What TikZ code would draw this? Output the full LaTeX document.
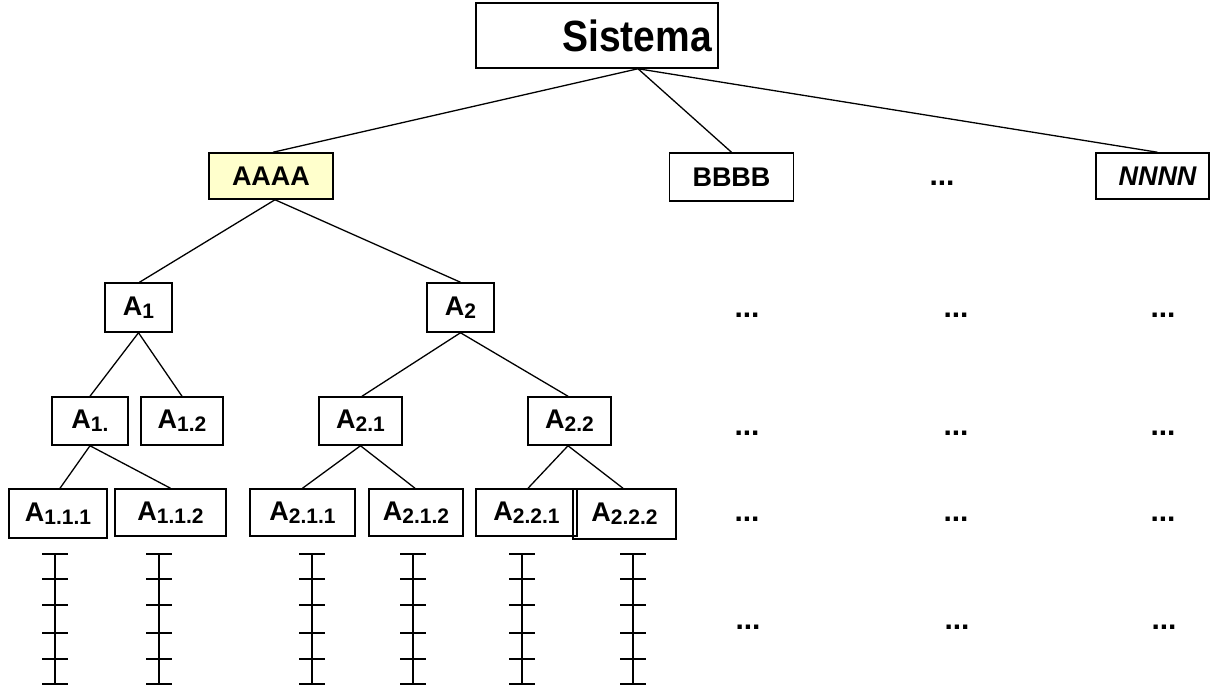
\documentclass[tikz,border=0pt]{standalone}
\usepackage{fontspec}
\setmainfont{Liberation Sans}
\definecolor{paleyellow}{HTML}{FFFFCC}
\newcommand{\subidx}[1]{\raisebox{-3pt}{\fontsize{21}{21}\selectfont #1}}
\tikzset{
  box/.style={draw, line width=1.5pt, rectangle, inner sep=0pt, anchor=center,
    font=\bfseries\fontsize{27}{27}\selectfont},
  link/.style={line width=1.3pt},
  more/.style={inner sep=0pt, anchor=center, font=\bfseries\fontsize{30}{30}\selectfont},
  tick/.style={line width=1.4pt},
}
\begin{document}
\begin{tikzpicture}[x=1pt, y=-1pt]
\useasboundingbox (0,0) rectangle (1221,685);

% top level: the title sits right of the box centre
\node[box, minimum width=242pt, minimum height=65pt, font=\bfseries\fontsize{39}{39}\selectfont] (sys) at (597,35.5) {\hspace*{80pt}\scalebox{1}[1.12]{Sistema}};

% subsystems
\node[box, fill=paleyellow, minimum width=124pt, minimum height=46pt] (aaaa) at (271,176) {AAAA};
\node[box, minimum width=124pt, minimum height=48pt] (bbbb) at (731.5,177) {BBBB};
\node[box, minimum width=113pt, minimum height=46pt, font=\bfseries\itshape\fontsize{27}{27}\selectfont] (nnnn) at (1152.5,176) {\hspace*{10pt}NNNN};
\node[more] (m0) at (942,183) {...};

% second level
\node[box, minimum width=67pt, minimum height=49pt] (a1) at (138.5,307.5) {A\subidx{1}};
\node[box, minimum width=67pt, minimum height=49pt] (a2) at (460.5,307.5) {A\subidx{2}};

% third level
\node[box, minimum width=76pt, minimum height=48pt] (a11) at (90,421) {A\subidx{1.}};
\node[box, minimum width=82pt, minimum height=48pt] (a12) at (182,421) {A\subidx{1.2}};
\node[box, minimum width=83pt, minimum height=48pt] (a21) at (360.5,421) {A\subidx{2.1}};
\node[box, minimum width=83pt, minimum height=48pt] (a22) at (569.5,421) {A\subidx{2.2}};

% fourth level
\node[box, minimum width=98pt, minimum height=49pt] (a111) at (58,513.5) {A\subidx{1.1.1}};
\node[box, minimum width=111pt, minimum height=47pt] (a112) at (170.5,512.5) {A\subidx{1.1.2}};
\node[box, minimum width=105pt, minimum height=47pt] (a211) at (302.5,512.5) {A\subidx{2.1.1}};
\node[box, minimum width=94pt, minimum height=47pt] (a212) at (416,512.5) {A\subidx{2.1.2}};
\node[box, minimum width=101pt, minimum height=47pt] (a221) at (526.5,512.5) {A\subidx{2.2.1}};
\node[box, minimum width=103pt, minimum height=50pt] (a222) at (624.5,514) {A\subidx{2.2.2}};

% continuation marks on the right
\node[more] (m11) at (747,315) {...};
\node[more] (m12) at (956,315) {...};
\node[more] (m13) at (1163,315) {...};
\node[more] (m21) at (747,433) {...};
\node[more] (m22) at (956,433) {...};
\node[more] (m23) at (1163,433) {...};
\node[more] (m31) at (747,519) {...};
\node[more] (m32) at (956,519) {...};
\node[more] (m33) at (1163,519) {...};
\node[more] (m41) at (748,627) {...};
\node[more] (m42) at (957,627) {...};
\node[more] (m43) at (1164,627) {...};

% connectors
\draw[link] ([xshift=41pt]sys.south) -- ([xshift=2pt]aaaa.north);
\draw[link] ([xshift=41pt]sys.south) -- (bbbb.north);
\draw[link] ([xshift=41pt]sys.south) -- ([xshift=5pt]nnnn.north);

\draw[link] ([xshift=4pt]aaaa.south) -- ([xshift=1pt]a1.north);
\draw[link] ([xshift=4pt]aaaa.south) -- (a2.north);

\draw[link] (a1.south) -- (a11.north);
\draw[link] (a1.south) -- (a12.north);
\draw[link] (a2.south) -- ([xshift=1.5pt]a21.north);
\draw[link] (a2.south) -- ([xshift=-1.5pt]a22.north);

\draw[link] (a11.south) -- ([xshift=2pt]a111.north);
\draw[link] (a11.south) -- (a112.north);
\draw[link] (a21.south) -- (a211.north);
\draw[link] (a21.south) -- ([xshift=-1pt]a212.north);
\draw[link] ([xshift=-1.5pt]a22.south) -- ([xshift=1.5pt]a221.north);
\draw[link] ([xshift=-1.5pt]a22.south) -- ([xshift=-1.5pt]a222.north);

% ladders below the leaves
\foreach \x in {55,159,312,413,522,633} {
  \draw[tick] (\x,554) -- (\x,684);
  \foreach \y in {554,579,605,633,659,684}
    \draw[tick] (\x-13,\y) -- (\x+13,\y);
}
\end{tikzpicture}
\end{document}
